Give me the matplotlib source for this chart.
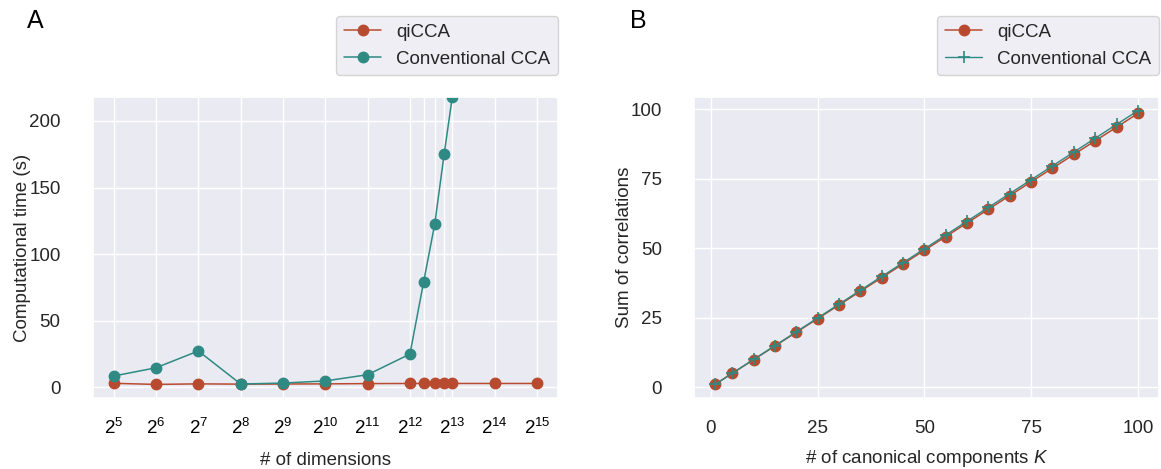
"""Two-panel comparison: qiCCA vs conventional CCA (runtime and correlation sum)."""

import matplotlib

matplotlib.use("Agg")
import matplotlib.pyplot as plt
import seaborn as sns

# Panel A: computation time vs number of dimensions
dims_qi = [2**5, 2**6, 2**7, 2**8, 2**9, 2**10, 2**11, 4096, 5120, 6144, 7168, 8192, 2**14, 2**15]
time_qi = [3.0, 2.2, 2.6, 2.4, 2.5, 2.6, 2.8, 2.9, 2.9, 2.9, 2.9, 2.9, 2.9, 2.9]
dims_conv = [2**5, 2**6, 2**7, 2**8, 2**9, 2**10, 2**11, 4096, 5120, 6144, 7168, 8192]
time_conv = [8.5, 14.7, 27.3, 2.5, 3.2, 4.8, 9.5, 25.0, 79.0, 122.5, 175.0, 218.0]

# Panel B: sum of correlations vs number of canonical components
k_values = [1, 5, 10, 15, 20, 25, 30, 35, 40, 45, 50, 55, 60, 65, 70, 75, 80, 85, 90, 95, 100]
corr_qi = [1.0, 4.95, 9.88, 14.8, 19.72, 24.63, 29.55, 34.47, 39.4, 44.32, 49.25,
           54.17, 59.1, 64.0, 68.95, 73.9, 78.8, 83.75, 88.65, 93.55, 98.5]
corr_conv = [1.0, 4.98, 9.96, 14.93, 19.91, 24.88, 29.86, 34.84, 39.81, 44.79, 49.76,
             54.74, 59.72, 64.69, 69.67, 74.64, 79.62, 84.6, 89.57, 94.55, 99.5]

RED = "#B84B2F"
TEAL = "#2E8A83"

sns.set_theme(style="darkgrid")
plt.rcParams.update(
    {
        "font.family": ["Liberation Sans", "DejaVu Sans"],
        "mathtext.fontset": "custom",
        "mathtext.rm": "Liberation Sans",
        "mathtext.it": "Liberation Sans:italic",
        "font.size": 13.5,
        "axes.labelsize": 13.5,
        "xtick.labelsize": 13.5,
        "ytick.labelsize": 13.5,
        "legend.fontsize": 13.5,
    }
)

fig = plt.figure(figsize=(11.61, 4.69), dpi=100)
ax_a = fig.add_axes([0.0797, 0.1514, 0.401, 0.6418])
ax_b = fig.add_axes([0.5978, 0.1514, 0.4005, 0.6418])


def power_label(d):
    # label only the powers of two, leave the in-between ticks blank
    if d & (d - 1):
        return ""
    return f"$2^{{{d.bit_length() - 1}}}$"


# ---- A ----
ax_a.plot(dims_qi, time_qi, "-o", color=RED, lw=1.1, ms=7.5, label="qiCCA")
ax_a.plot(dims_conv, time_conv, "-o", color=TEAL, lw=1.1, ms=7.5, label="Conventional CCA")
ax_a.set_xscale("log", base=2)
ax_a.set_xticks(dims_qi)
ax_a.set_xticklabels([power_label(d) for d in dims_qi], color="black")
ax_a.minorticks_off()
ax_a.set_xlim(2**4.5, 2**15.5)
ax_a.set_ylim(-8, 218)
ax_a.set_yticks([0, 50, 100, 150, 200])
ax_a.tick_params(axis="x", pad=8)
ax_a.tick_params(axis="y", pad=17)
ax_a.set_xlabel("# of dimensions", labelpad=10.5)
ax_a.set_ylabel("Computational time (s)", labelpad=-1.5)
ax_a.legend(loc="lower right", bbox_to_anchor=(1.0, 1.073), borderaxespad=0)

# ---- B ----
ax_b.plot(k_values, corr_qi, "-o", color=RED, lw=1.1, ms=7.5, label="qiCCA")
ax_b.plot(k_values, corr_conv, "-+", color=TEAL, lw=1.0, ms=8, mew=1.2, label="Conventional CCA")
ax_b.set_xticks([0, 25, 50, 75, 100])
ax_b.set_yticks([0, 25, 50, 75, 100])
ax_b.tick_params(axis="x", pad=10)
ax_b.tick_params(axis="y", pad=17)
ax_b.set_xlabel("# of canonical components $K$", labelpad=8)
ax_b.set_ylabel("Sum of correlations", labelpad=-1.5)
ax_b.legend(loc="lower right", bbox_to_anchor=(1.0, 1.073), borderaxespad=0)

fig.text(0.0235, 0.955, "A", fontsize=18, color="black", va="center")
fig.text(0.5425, 0.955, "B", fontsize=18, color="black", va="center")

fig.savefig("out.png", dpi=100)
